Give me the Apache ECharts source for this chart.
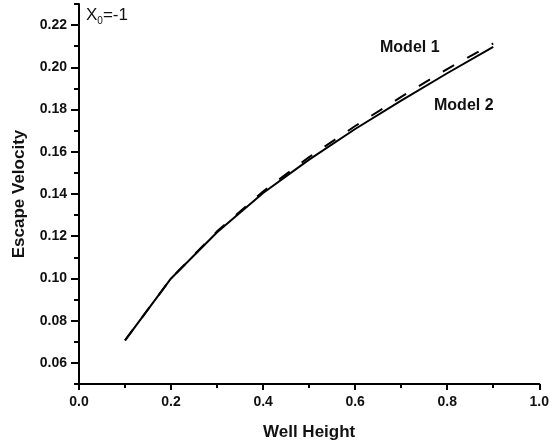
<!DOCTYPE html>
<html>
<head>
<meta charset="utf-8">
<script src="https://cdn.jsdelivr.net/npm/echarts@6/dist/echarts.min.js"></script>
<style>html,body{margin:0;padding:0;background:#fff}#c{width:552px;height:446px}</style>
</head>
<body>
<div id="c"></div>
<script>
const wellHeight = [0.1, 0.2, 0.3, 0.4, 0.5, 0.6, 0.7, 0.8, 0.9];
const model1 = [0.0707, 0.1000, 0.1223, 0.1412, 0.1575, 0.1722, 0.1860, 0.1992, 0.2113];
const model2 = [0.0707, 0.1000, 0.1219, 0.1405, 0.1563, 0.1708, 0.1842, 0.1972, 0.2097];
const yMajor = [0.06, 0.08, 0.10, 0.12, 0.14, 0.16, 0.18, 0.20, 0.22];
const yMinor = [0.05, 0.07, 0.09, 0.11, 0.13, 0.15, 0.17, 0.19, 0.21, 0.23];

const font = 'Liberation Sans, Arial, sans-serif';
const chart = echarts.init(document.getElementById('c'));
chart.setOption({
  animation: false,
  backgroundColor: '#fff',
  grid: { left: 79, right: 7, top: 4, bottom: 62, containLabel: false },
  xAxis: {
    type: 'value', min: 0, max: 1, interval: 0.2,
    name: 'Well Height', nameLocation: 'middle', nameGap: 40,
    nameTextStyle: { fontFamily: font, fontWeight: 'bold', fontSize: 17, color: '#111' },
    axisLine: { show: true, lineStyle: { color: '#000', width: 2 } },
    axisTick: { show: true, inside: false, length: 6, lineStyle: { color: '#000', width: 2 } },
    minorTick: { show: true, splitNumber: 2, length: 4, lineStyle: { color: '#000', width: 2 } },
    axisLabel: { fontFamily: font, fontWeight: 'bold', fontSize: 14, color: '#111', margin: 11,
      formatter: v => v.toFixed(1) },
    splitLine: { show: false }, minorSplitLine: { show: false }
  },
  yAxis: [{
    type: 'value', min: 0.05, max: 0.23,
    name: 'Escape Velocity', nameLocation: 'middle', nameGap: 51,
    nameTextStyle: { fontFamily: font, fontWeight: 'bold', fontSize: 17, color: '#111' },
    axisLine: { show: true, lineStyle: { color: '#000', width: 2 } },
    axisTick: { show: true, inside: false, length: 8, customValues: yMajor, lineStyle: { color: '#000', width: 2 } },
    axisLabel: { fontFamily: font, fontWeight: 'bold', fontSize: 14, color: '#111', margin: 12,
      customValues: yMajor, formatter: v => v.toFixed(2) },
    splitLine: { show: false }
  }, {
    type: 'value', min: 0.05, max: 0.23, position: 'left',
    axisLine: { show: false },
    axisTick: { show: true, inside: false, length: 5, customValues: yMinor, lineStyle: { color: '#000', width: 2 } },
    axisLabel: { show: false, customValues: yMinor },
    splitLine: { show: false }
  }],
  series: [{
    name: 'Model 1', type: 'line', showSymbol: false,
    data: wellHeight.map((x, i) => [x, model1[i]]),
    lineStyle: { color: '#000', width: 2, type: [13, 15] }
  }, {
    name: 'Model 2', type: 'line', showSymbol: false,
    data: wellHeight.map((x, i) => [x, model2[i]]),
    lineStyle: { color: '#000', width: 2 }
  }],
  graphic: [
    { type: 'text', left: 380, top: 40, style: { text: 'Model 1', font: 'bold 16px ' + font, fill: '#111' } },
    { type: 'text', left: 434, top: 98, style: { text: 'Model 2', font: 'bold 16px ' + font, fill: '#111' } },
    { type: 'text', left: 86, top: 7, style: { text: '{a|X}{b|0}{a|=-1}', font: '16px ' + font, fill: '#111',
      rich: { a: { fontFamily: font, fontSize: 17, fill: '#111' }, b: { fontFamily: font, fontSize: 10, fill: '#111', verticalAlign: 'bottom', padding: [11, 0, 0, 0] } } } }
  ]
});
</script>
</body>
</html>
